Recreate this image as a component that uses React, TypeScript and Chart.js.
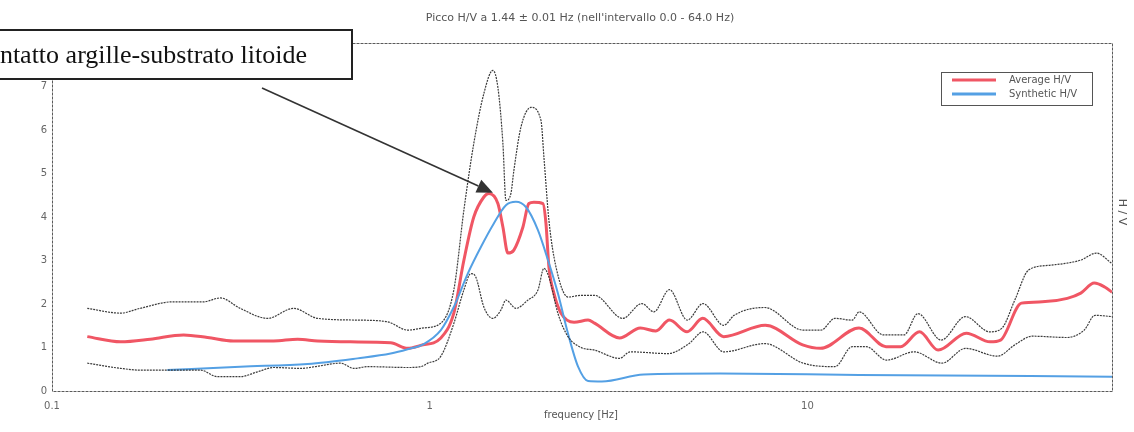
import { useEffect, useRef } from "react";
import { Chart, registerables } from "chart.js";

Chart.register(...registerables);

const titleText = "Picco H/V a 1.44 ± 0.01 Hz (nell'intervallo 0.0 - 64.0 Hz)";
const noteText = "Contatto argille-substrato litoide";
const xTitle = "frequency [Hz]";
const yTitle = "H / V";
const legendLabels = ["Average H/V", "Synthetic H/V"];
const xTicks = [0.1, 1, 10];
const xTickLabels = ["0.1", "1", "10"];
const noteTarget = [1.47, 4.56];

const avgFreq = [0.124, 0.152, 0.182, 0.223, 0.258, 0.302, 0.386, 0.447, 0.505, 0.617, 0.788, 0.874, 0.946, 1.07, 1.158, 1.231, 1.308, 1.391, 1.434, 1.515, 1.562, 1.61, 1.67, 1.765, 1.83, 1.887, 1.994, 2.031, 2.068, 2.133, 2.226, 2.41, 2.625, 2.73, 3.18, 3.61, 3.97, 4.31, 4.8, 5.28, 6.0, 7.73, 9.71, 10.83, 13.69, 16.14, 17.65, 19.79, 22.18, 26.33, 30.45, 32.44, 36.84, 41.83, 48.73, 52.9, 57.43, 61.2, 64];
const avgHV = [1.25, 1.13, 1.19, 1.29, 1.23, 1.15, 1.15, 1.19, 1.15, 1.13, 1.11, 0.98, 1.05, 1.22, 1.79, 3.0, 4.0, 4.46, 4.54, 4.31, 3.77, 3.17, 3.24, 3.77, 4.31, 4.34, 4.31, 3.85, 2.85, 2.24, 1.79, 1.58, 1.63, 1.56, 1.22, 1.45, 1.38, 1.63, 1.36, 1.67, 1.25, 1.51, 1.06, 0.98, 1.45, 1.02, 1.02, 1.36, 0.94, 1.33, 1.13, 1.17, 2.02, 2.05, 2.13, 2.25, 2.48, 2.39, 2.27];

const upperFreq = [0.124, 0.152, 0.171, 0.209, 0.252, 0.279, 0.315, 0.372, 0.436, 0.505, 0.644, 0.774, 0.874, 0.964, 1.07, 1.158, 1.231, 1.308, 1.391, 1.469, 1.515, 1.562, 1.591, 1.64, 1.67, 1.743, 1.853, 1.97, 2.006, 2.068, 2.159, 2.323, 2.515, 2.73, 3.243, 3.642, 3.922, 4.31, 4.805, 5.29, 6.0, 6.395, 7.7, 9.74, 10.86, 11.82, 13.14, 13.7, 15.87, 18.02, 19.6, 22.59, 26.18, 30.38, 32.68, 35.39, 38.49, 43.72, 52.9, 58.17, 64];
const upperHV = [1.9, 1.79, 1.9, 2.05, 2.05, 2.14, 1.9, 1.67, 1.9, 1.67, 1.63, 1.59, 1.4, 1.45, 1.56, 2.32, 4.15, 5.69, 6.84, 7.37, 6.98, 5.69, 4.38, 4.54, 5.07, 6.06, 6.52, 6.22, 5.37, 3.92, 2.85, 2.16, 2.2, 2.2, 1.67, 2.01, 1.82, 2.33, 1.63, 2.01, 1.51, 1.74, 1.92, 1.4, 1.4, 1.67, 1.63, 1.82, 1.29, 1.29, 1.78, 1.17, 1.71, 1.36, 1.44, 2.09, 2.78, 2.89, 3.01, 3.17, 2.93];

const lowerFreq = [0.124, 0.152, 0.171, 0.247, 0.274, 0.315, 0.35, 0.386, 0.455, 0.505, 0.581, 0.629, 0.685, 0.874, 0.946, 0.988, 1.07, 1.158, 1.231, 1.285, 1.324, 1.391, 1.469, 1.543, 1.591, 1.691, 1.819, 1.934, 2.006, 2.068, 2.185, 2.323, 2.515, 2.73, 3.18, 3.393, 4.271, 4.859, 5.29, 6.0, 7.7, 9.74, 11.82, 13.14, 14.3, 16.18, 19.17, 22.7, 26.2, 31.84, 35.39, 39.33, 48.61, 54.02, 57.71, 64];
const lowerHV = [0.64, 0.52, 0.48, 0.48, 0.33, 0.33, 0.44, 0.54, 0.52, 0.57, 0.64, 0.52, 0.56, 0.54, 0.56, 0.64, 0.8, 1.55, 2.32, 2.7, 2.62, 1.93, 1.67, 1.86, 2.09, 1.9, 2.09, 2.32, 2.82, 2.62, 1.78, 1.25, 1.0, 0.94, 0.75, 0.9, 0.86, 1.09, 1.36, 0.9, 1.09, 0.64, 0.56, 1.02, 1.02, 0.71, 0.9, 0.64, 0.98, 0.8, 1.06, 1.26, 1.23, 1.4, 1.74, 1.71];

const synthFreq = [0.202, 0.315, 0.475, 0.644, 0.788, 0.874, 0.964, 1.07, 1.158, 1.261, 1.366, 1.478, 1.591, 1.691, 1.797, 1.934, 2.056, 2.185, 2.323, 2.47, 2.625, 2.856, 3.684, 5.87, 13.7, 64];
const synthHV = [0.48, 0.56, 0.62, 0.75, 0.86, 0.96, 1.08, 1.4, 1.93, 2.7, 3.31, 3.85, 4.27, 4.35, 4.23, 3.7, 3.01, 2.24, 1.32, 0.56, 0.23, 0.22, 0.38, 0.4, 0.37, 0.33];

const toPoints = (xs: number[], ys: number[]) => xs.map((x, i) => ({ x, y: ys[i] }));

const RED = "rgb(240, 86, 100)";
const BLUE = "rgb(84, 160, 228)";
const STD = "rgba(50, 50, 50, 0.95)";
const SANS = "'DejaVu Sans', Verdana, sans-serif";

const overlay = {
  id: "overlay",
  afterDraw(chart: any) {
    const { ctx, chartArea: a, scales } = chart;
    ctx.save();
    // plot frame
    ctx.strokeStyle = "#5a5a5a";
    ctx.lineWidth = 1;
    ctx.setLineDash([3, 1]);
    ctx.strokeRect(a.left + 0.5, a.top + 0.5, a.right - a.left, a.bottom - a.top);
    ctx.setLineDash([]);

    // title
    ctx.fillStyle = "#555";
    ctx.font = "11px " + SANS;
    ctx.textAlign = "center";
    ctx.textBaseline = "middle";
    ctx.fillText(titleText, 580, 18);

    // x axis title
    ctx.font = "10px " + SANS;
    ctx.fillText(xTitle, 581, 415);

    // right axis title
    ctx.save();
    ctx.translate(1122, 212);
    ctx.rotate(Math.PI / 2);
    ctx.font = "11px " + SANS;
    ctx.fillText(yTitle, 0, 0);
    ctx.restore();

    // legend
    ctx.fillStyle = "#fff";
    ctx.fillRect(941, 72, 151, 33);
    ctx.strokeStyle = "#555";
    ctx.lineWidth = 1;
    ctx.strokeRect(941.5, 72.5, 151, 33);
    ctx.lineWidth = 3;
    ctx.strokeStyle = RED;
    ctx.beginPath();
    ctx.moveTo(952, 80);
    ctx.lineTo(996, 80);
    ctx.stroke();
    ctx.strokeStyle = BLUE;
    ctx.beginPath();
    ctx.moveTo(952, 94);
    ctx.lineTo(996, 94);
    ctx.stroke();
    ctx.fillStyle = "#555";
    ctx.font = "10px " + SANS;
    ctx.textAlign = "left";
    ctx.fillText(legendLabels[0], 1009, 80);
    ctx.fillText(legendLabels[1], 1009, 94);

    // annotation box
    ctx.fillStyle = "#fff";
    ctx.fillRect(-10, 30, 362, 49);
    ctx.strokeStyle = "#222";
    ctx.lineWidth = 2;
    ctx.strokeRect(-10, 30, 362, 49);
    ctx.fillStyle = "#111";
    ctx.font = "26px 'Liberation Serif', 'Times New Roman', serif";
    ctx.textAlign = "right";
    ctx.textBaseline = "alphabetic";
    ctx.fillText(noteText, 307, 63);

    // arrow
    const tx = scales.x.getPixelForValue(noteTarget[0]);
    const ty = scales.y.getPixelForValue(noteTarget[1]);
    const sx = 262, sy = 88;
    const ang = Math.atan2(ty - sy, tx - sx);
    const hl = 16, hw = 7;
    const bx = tx - hl * Math.cos(ang), by = ty - hl * Math.sin(ang);
    ctx.strokeStyle = "#333";
    ctx.lineWidth = 1.6;
    ctx.beginPath();
    ctx.moveTo(sx, sy);
    ctx.lineTo(bx, by);
    ctx.stroke();
    ctx.fillStyle = "#333";
    ctx.beginPath();
    ctx.moveTo(tx, ty);
    ctx.lineTo(bx + hw * Math.sin(ang), by - hw * Math.cos(ang));
    ctx.lineTo(bx - hw * Math.sin(ang), by + hw * Math.cos(ang));
    ctx.closePath();
    ctx.fill();
    ctx.restore();
  },
};

export default function App() {
  const ref = useRef<HTMLCanvasElement | null>(null);
  useEffect(() => {
    if (!ref.current) return;
    const stdStyle = {
      borderColor: STD,
      borderWidth: 1.2,
      borderDash: [2, 1],
      pointRadius: 0,
      fill: false,
      cubicInterpolationMode: "monotone" as const,
    };
    const chart = new Chart(ref.current, {
      type: "line",
      data: {
        datasets: [
          { label: "upper", data: toPoints(upperFreq, upperHV), ...stdStyle },
          { label: "lower", data: toPoints(lowerFreq, lowerHV), ...stdStyle },
          {
            label: legendLabels[1],
            data: toPoints(synthFreq, synthHV),
            borderColor: BLUE,
            borderWidth: 2,
            pointRadius: 0,
            cubicInterpolationMode: "monotone",
          },
          {
            label: legendLabels[0],
            data: toPoints(avgFreq, avgHV),
            borderColor: RED,
            borderWidth: 3,
            pointRadius: 0,
            cubicInterpolationMode: "monotone",
          },
        ],
      },
      options: {
        animation: false,
        responsive: false,
        maintainAspectRatio: false,
        layout: { padding: { top: 43, left: 0, right: 22, bottom: 0 } },
        plugins: { legend: { display: false }, tooltip: { enabled: false }, title: { display: false } },
        scales: {
          x: {
            type: "logarithmic",
            min: 0.1,
            max: 64,
            grid: { display: false, drawTicks: false },
            border: { display: false },
            afterBuildTicks: (s: any) => {
              s.ticks = xTicks.map((v) => ({ value: v }));
            },
            ticks: {
              autoSkip: false,
              maxRotation: 0,
              padding: 9,
              color: "#666",
              font: { size: 10, family: SANS },
              callback: (v: any) => {
                const i = xTicks.indexOf(Number(v));
                return i >= 0 ? xTickLabels[i] : "";
              },
            },
            afterFit: (s: any) => {
              s.height = 41;
            },
          },
          y: {
            min: 0,
            max: 8,
            grid: { display: false, drawTicks: false },
            border: { display: false },
            ticks: {
              stepSize: 1,
              padding: 5,
              color: "#666",
              font: { size: 10, family: SANS },
            },
            afterFit: (s: any) => {
              s.width = 52;
            },
          },
        },
      },
      plugins: [overlay],
    });
    return () => chart.destroy();
  }, []);
  return (
    <div style={{ position: "fixed", left: 0, top: 0, width: 1134, height: 432, background: "#fff" }}>
      <canvas ref={ref} width={1134} height={432} style={{ width: 1134, height: 432 }} />
    </div>
  );
}
